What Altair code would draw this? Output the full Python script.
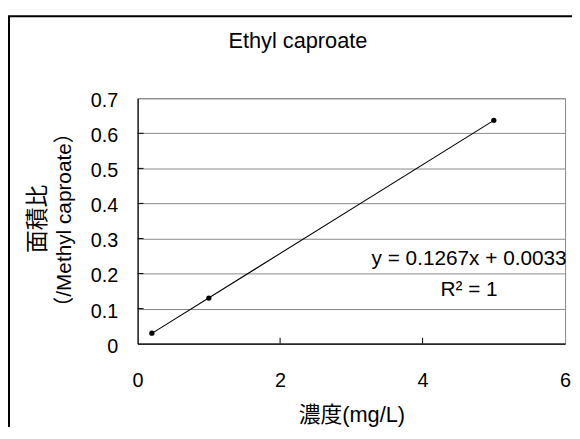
import altair as alt
import pandas as pd

# data
conc = [0.2, 1.0, 5.0]
ratio = [0.03, 0.13, 0.637]
x_ticks = [0, 2, 4, 6]
y_ticks = [0, 0.1, 0.2, 0.3, 0.4, 0.5, 0.6, 0.7]
title_text = "Ethyl caproate"
x_title = "濃度(mg/L)"
y_title_1 = "面積比"
y_title_2 = "（/Methyl caproate）"
eq_text = "y = 0.1267x + 0.0033"
r2_text = "R² = 1"

FONT = "Liberation Sans, Arial, Noto Sans CJK JP"
W, H = 432, 248

df = pd.DataFrame({"conc": conc, "ratio": ratio})
xt = pd.DataFrame({"conc": x_ticks[1:-1]})
yt = pd.DataFrame({"ratio": y_ticks[1:-1]})

xs = alt.Scale(domain=[0, 6], nice=False, zero=False)
ys = alt.Scale(domain=[0, 0.7], nice=False, zero=False)

x_axis = alt.Axis(values=x_ticks, title=x_title, grid=False, tickSize=0,
                  format="d", labelOverlap=False, labelFlush=False,
                  labelPadding=27, titleY=72, titleBaseline="middle",
                  titleFontSize=22, titleFontWeight="normal")
y_axis = alt.Axis(values=y_ticks, title=None, grid=True, tickSize=0,
                  labelOverlap=False, labelFlush=False,
                  labelPadding=20, labelOffset=2.5,
                  labelExpr="datum.value == 0 ? '0' : format(datum.value, '.1f')")

X = alt.X("conc:Q", scale=xs, axis=x_axis)
Y = alt.Y("ratio:Q", scale=ys, axis=y_axis)

base = alt.Chart(df)

points = base.mark_circle(size=28, color="black", opacity=1).encode(x=X, y=Y)

trend = base.transform_regression("conc", "ratio").mark_line(
    color="black", strokeWidth=1.1
).encode(x=X, y=Y)

xtick_marks = alt.Chart(xt).mark_rule(color="black", strokeWidth=1).encode(
    x=X, y=alt.value(H - 6), y2=alt.value(H)
)
ytick_marks = alt.Chart(yt).mark_rule(color="black", strokeWidth=1).encode(
    y=Y, x=alt.value(0), x2=alt.value(6)
)

def txt(text, x, y, size=20, angle=0):
    return alt.Chart(pd.DataFrame({"s": [text]})).mark_text(
        font=FONT, fontSize=size, color="black", align="center",
        baseline="middle", angle=angle
    ).encode(text="s:N", x=alt.value(x), y=alt.value(y))

title_m = txt(title_text, 162, -58, size=22)
ytitle1 = txt(y_title_1, -101, 122, size=23, angle=270)
ytitle2 = txt(y_title_2, -73, 123, size=21, angle=270)
eq_m = txt(eq_text, 335, 163, size=21)
r2_m = txt(r2_text, 335, 194, size=21)

border = alt.Chart(pd.DataFrame({"a": [1]})).mark_rect(
    fill=None, stroke="black", strokeWidth=2
).encode(x=alt.value(-130), y=alt.value(-83), x2=alt.value(1000), y2=alt.value(1000))

chart = alt.layer(
    border, trend, points, xtick_marks, ytick_marks,
    title_m, ytitle1, ytitle2, eq_m, r2_m
).properties(
    width=W, height=H,
    autosize=alt.AutoSizeParams(type="none"),
    padding={"left": 131, "top": 89, "right": 7, "bottom": 82},
    background="white",
).configure_view(
    stroke="#888888", strokeWidth=1
).configure_axis(
    labelFont=FONT, titleFont=FONT, labelFontSize=20, labelColor="black",
    titleColor="black", domainColor="black", domainWidth=1.2,
    gridColor="#888888", gridWidth=1,
)

chart.save("out.html", embed_options={"renderer": "svg", "actions": False})
